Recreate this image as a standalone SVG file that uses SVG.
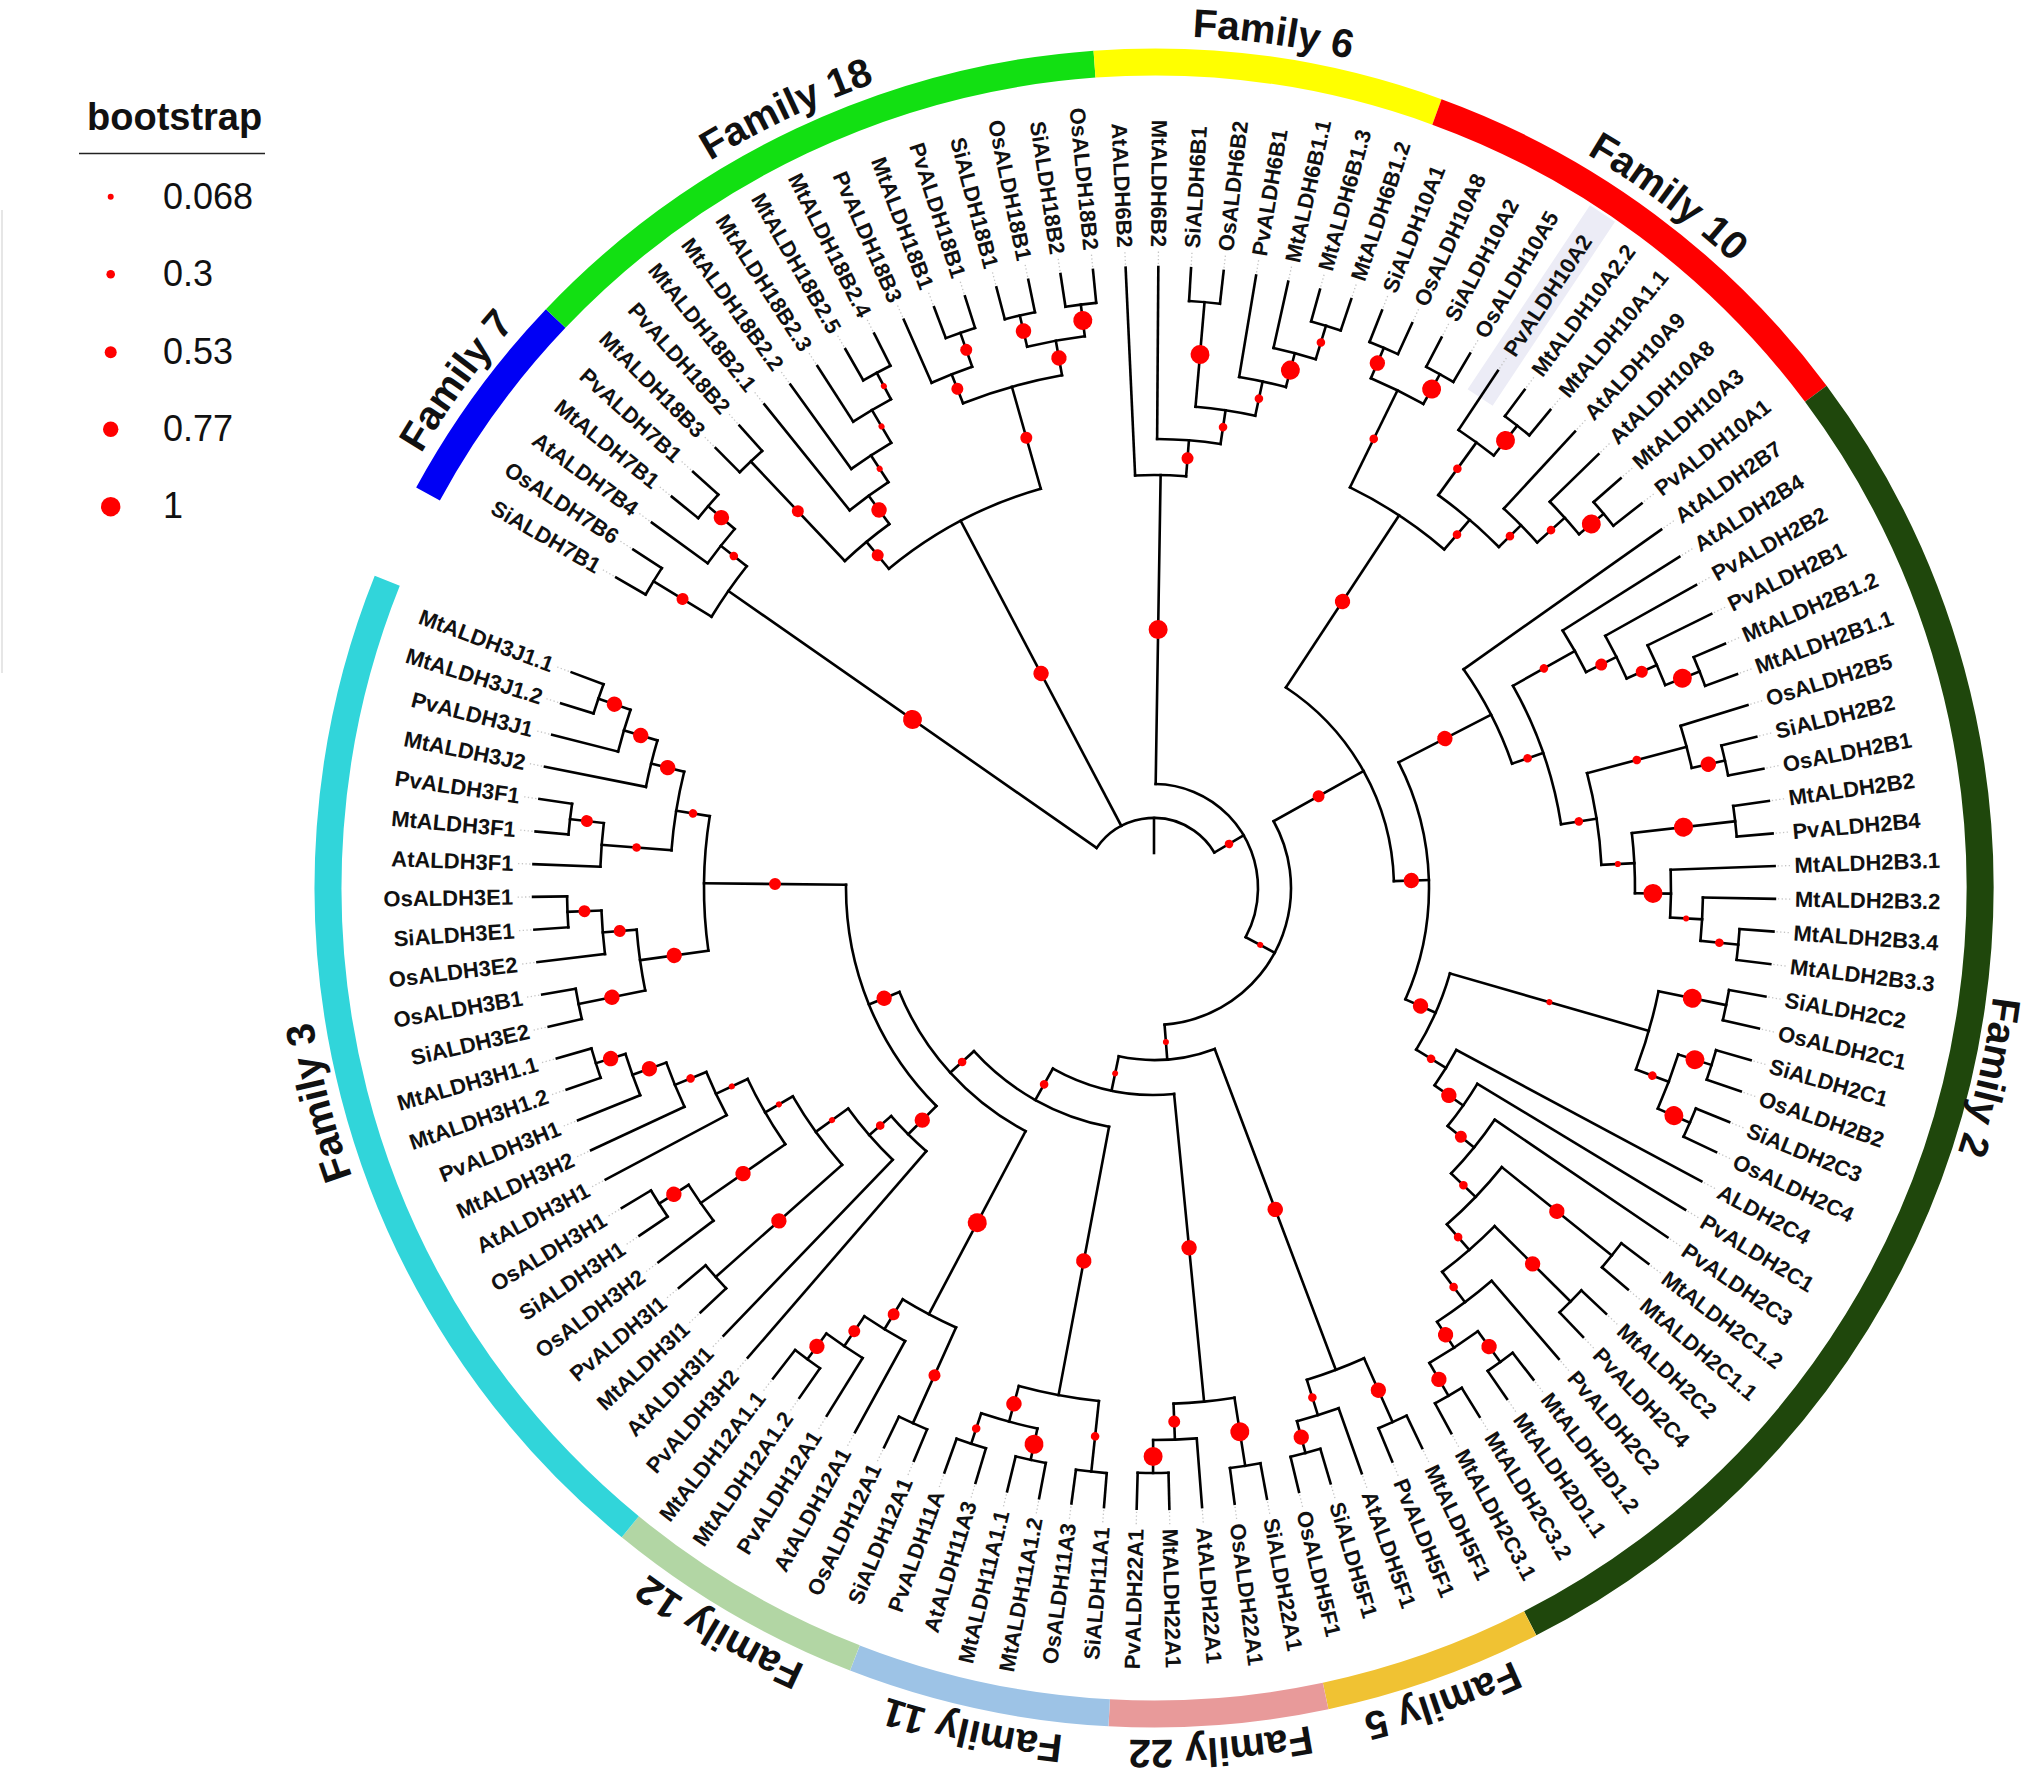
<svg xmlns="http://www.w3.org/2000/svg" width="2031" height="1777" viewBox="0 0 2031 1777">
<defs>
<style>
.br line,.br circle{fill:none;stroke:#000;stroke-width:2.6;stroke-linecap:square}
.bs circle{fill:#ff0000}
.rg circle{fill:none;stroke-width:27}
.lf text{font-family:"Liberation Sans",Arial,sans-serif;font-size:22px;font-weight:bold;fill:#111;dominant-baseline:central}
.lf line{stroke:#c4c4c4;stroke-width:1.3;stroke-dasharray:1.3 2.4}
.fam{font-family:"Liberation Sans",Arial,sans-serif;font-size:40px;font-weight:bold;fill:#111}
.lg{font-family:"Liberation Sans",Arial,sans-serif;font-size:36px;fill:#111}
</style>
<path id="famPath" d="M2006,888 A852,852 0 1,1 302,888 A852,852 0 1,1 2006,888"/>
<path id="famPath2" d="M2000,888 A846,846 0 1,1 308,888 A846,846 0 1,1 2000,888"/>
</defs>
<rect width="2031" height="1777" fill="#fff"/>
<line x1="2" y1="210" x2="2" y2="673" stroke="#e6e6e6" stroke-width="2"/>
<g id="highlight-PvALDH10A2" transform="translate(1154,888) rotate(303.62)"><rect x="589" y="-15" width="221" height="30" fill="#ececf6"/></g>
<g id="ring" class="rg" transform="translate(1154,888)">
<g id="ring-family7"><circle r="826" pathLength="360" stroke="#0000f5" stroke-dasharray="15.1 720" transform="rotate(208.49)"/></g>
<g id="ring-family18"><circle r="826" pathLength="360" stroke="#12e012" stroke-dasharray="42.28 720" transform="rotate(223.59)"/></g>
<g id="ring-family6"><circle r="826" pathLength="360" stroke="#ffff00" stroke-dasharray="24.16 720" transform="rotate(265.87)"/></g>
<g id="ring-family10"><circle r="826" pathLength="360" stroke="#ff0000" stroke-dasharray="33.22 720" transform="rotate(290.03)"/></g>
<g id="ring-family2"><circle r="826" pathLength="360" stroke="#1f470c" stroke-dasharray="99.66 720" transform="rotate(323.25)"/></g>
<g id="ring-family5"><circle r="826" pathLength="360" stroke="#f0c233" stroke-dasharray="15.1 720" transform="rotate(62.91)"/></g>
<g id="ring-family22"><circle r="826" pathLength="360" stroke="#e89a9a" stroke-dasharray="15.1 720" transform="rotate(78.01)"/></g>
<g id="ring-family11"><circle r="826" pathLength="360" stroke="#9dc3e6" stroke-dasharray="18.12 720" transform="rotate(93.11)"/></g>
<g id="ring-family12"><circle r="826" pathLength="360" stroke="#b2d6a4" stroke-dasharray="18.12 720" transform="rotate(111.23)"/></g>
<g id="ring-family3"><circle r="826" pathLength="360" stroke="#31d5da" stroke-dasharray="72.48 720" transform="rotate(129.35)"/></g>
</g>
<g id="family-labels" class="fam">
<text id="label-family7"><textPath href="#famPath" startOffset="60.01%" text-anchor="middle">Family 7</textPath></text>
<text id="label-family18"><textPath href="#famPath" startOffset="67.98%" text-anchor="middle">Family 18</textPath></text>
<text id="label-family6"><textPath href="#famPath" startOffset="77.21%" text-anchor="middle">Family 6</textPath></text>
<text id="label-family10"><textPath href="#famPath" startOffset="85.18%" text-anchor="middle">Family 10</textPath></text>
<text id="label-family2"><textPath href="#famPath2" startOffset="3.55%" text-anchor="middle">Family 2</textPath></text>
<text id="label-family5"><textPath href="#famPath" startOffset="19.57%" text-anchor="middle">Family 5</textPath></text>
<text id="label-family22"><textPath href="#famPath" startOffset="23.77%" text-anchor="middle">Family 22</textPath></text>
<text id="label-family11"><textPath href="#famPath" startOffset="28.38%" text-anchor="middle">Family 11</textPath></text>
<text id="label-family12"><textPath href="#famPath" startOffset="33.41%" text-anchor="middle">Family 12</textPath></text>
<text id="label-family3"><textPath href="#famPath" startOffset="46.0%" text-anchor="middle">Family 3</textPath></text>
</g>
<g id="connectors" class="br" transform="translate(1154,888)">
<line x1="35" x2="70" transform="rotate(270)"/>
<circle r="70" pathLength="360" stroke-dasharray="114.66 720" transform="rotate(214.91)"/>
<line x1="70" x2="519" transform="rotate(214.91)"/>
<line x1="70" x2="415" transform="rotate(242.23)"/>
<line x1="70" x2="104" transform="rotate(329.57)"/>
<circle r="104" pathLength="360" stroke-dasharray="117.29 720" transform="rotate(270.92)"/>
<line x1="104" x2="413" transform="rotate(270.92)"/>
<line x1="104" x2="137" transform="rotate(28.21)"/>
<circle r="137" pathLength="360" stroke-dasharray="114.74 720" transform="rotate(330.84)"/>
<line x1="137" x2="240" transform="rotate(330.84)"/>
<line x1="137" x2="172" transform="rotate(85.58)"/>
<circle r="240" pathLength="360" stroke-dasharray="55 720" transform="rotate(303.34)"/>
<line x1="240" x2="446" transform="rotate(303.34)"/>
<line x1="240" x2="275" transform="rotate(358.34)"/>
<circle r="275" pathLength="360" stroke-dasharray="51.08 720" transform="rotate(332.8)"/>
<line x1="275" x2="379" transform="rotate(332.8)"/>
<line x1="275" x2="308" transform="rotate(23.88)"/>
<circle r="379" pathLength="360" stroke-dasharray="16.09 720" transform="rotate(324.76)"/>
<line x1="379" x2="621" transform="rotate(324.76)"/>
<line x1="379" x2="412" transform="rotate(340.85)"/>
<circle r="412" pathLength="360" stroke-dasharray="20.48 720" transform="rotate(330.61)"/>
<line x1="412" x2="483" transform="rotate(330.61)"/>
<line x1="412" x2="448" transform="rotate(351.09)"/>
<circle r="483" pathLength="360" stroke-dasharray="5.67 720" transform="rotate(327.78)"/>
<line x1="483" x2="621" transform="rotate(327.78)"/>
<line x1="483" x2="517" transform="rotate(333.45)"/>
<circle r="517" pathLength="360" stroke-dasharray="5.29 720" transform="rotate(330.8)"/>
<line x1="517" x2="621" transform="rotate(330.8)"/>
<line x1="517" x2="550" transform="rotate(336.09)"/>
<circle r="550" pathLength="360" stroke-dasharray="4.53 720" transform="rotate(333.82)"/>
<line x1="550" x2="621" transform="rotate(333.82)"/>
<line x1="550" x2="587" transform="rotate(338.35)"/>
<circle r="587" pathLength="360" stroke-dasharray="3.02 720" transform="rotate(336.84)"/>
<line x1="587" x2="621" transform="rotate(336.84)"/>
<line x1="587" x2="621" transform="rotate(339.86)"/>
<circle r="448" pathLength="360" stroke-dasharray="11.89 720" transform="rotate(345.15)"/>
<line x1="448" x2="551" transform="rotate(345.15)"/>
<line x1="448" x2="481" transform="rotate(357.04)"/>
<circle r="551" pathLength="360" stroke-dasharray="4.53 720" transform="rotate(342.88)"/>
<line x1="551" x2="621" transform="rotate(342.88)"/>
<line x1="551" x2="585" transform="rotate(347.41)"/>
<circle r="585" pathLength="360" stroke-dasharray="3.02 720" transform="rotate(345.9)"/>
<line x1="585" x2="621" transform="rotate(345.9)"/>
<line x1="585" x2="621" transform="rotate(348.92)"/>
<circle r="481" pathLength="360" stroke-dasharray="7.17 720" transform="rotate(353.45)"/>
<line x1="481" x2="585" transform="rotate(353.45)"/>
<line x1="481" x2="517" transform="rotate(0.62)"/>
<circle r="585" pathLength="360" stroke-dasharray="3.02 720" transform="rotate(351.94)"/>
<line x1="585" x2="621" transform="rotate(351.94)"/>
<line x1="585" x2="621" transform="rotate(354.96)"/>
<circle r="517" pathLength="360" stroke-dasharray="5.29 720" transform="rotate(357.98)"/>
<line x1="517" x2="621" transform="rotate(357.98)"/>
<line x1="517" x2="549" transform="rotate(3.27)"/>
<circle r="549" pathLength="360" stroke-dasharray="4.53 720" transform="rotate(1)"/>
<line x1="549" x2="621" transform="rotate(1)"/>
<line x1="549" x2="587" transform="rotate(5.53)"/>
<circle r="587" pathLength="360" stroke-dasharray="3.02 720" transform="rotate(4.02)"/>
<line x1="587" x2="621" transform="rotate(4.02)"/>
<line x1="587" x2="621" transform="rotate(7.04)"/>
<circle r="308" pathLength="360" stroke-dasharray="15.55 720" transform="rotate(16.1)"/>
<line x1="308" x2="515" transform="rotate(16.1)"/>
<line x1="308" x2="343" transform="rotate(31.65)"/>
<circle r="515" pathLength="360" stroke-dasharray="9.06 720" transform="rotate(11.57)"/>
<line x1="515" x2="584" transform="rotate(11.57)"/>
<line x1="515" x2="550" transform="rotate(20.63)"/>
<circle r="584" pathLength="360" stroke-dasharray="3.02 720" transform="rotate(10.06)"/>
<line x1="584" x2="621" transform="rotate(10.06)"/>
<line x1="584" x2="621" transform="rotate(13.08)"/>
<circle r="550" pathLength="360" stroke-dasharray="6.04 720" transform="rotate(17.61)"/>
<line x1="550" x2="585" transform="rotate(17.61)"/>
<line x1="550" x2="585" transform="rotate(23.65)"/>
<circle r="585" pathLength="360" stroke-dasharray="3.02 720" transform="rotate(16.1)"/>
<line x1="585" x2="621" transform="rotate(16.1)"/>
<line x1="585" x2="621" transform="rotate(19.12)"/>
<circle r="585" pathLength="360" stroke-dasharray="3.02 720" transform="rotate(22.14)"/>
<line x1="585" x2="621" transform="rotate(22.14)"/>
<line x1="585" x2="621" transform="rotate(25.16)"/>
<circle r="343" pathLength="360" stroke-dasharray="6.94 720" transform="rotate(28.18)"/>
<line x1="343" x2="621" transform="rotate(28.18)"/>
<line x1="343" x2="378" transform="rotate(35.12)"/>
<circle r="378" pathLength="360" stroke-dasharray="7.83 720" transform="rotate(31.2)"/>
<line x1="378" x2="621" transform="rotate(31.2)"/>
<line x1="378" x2="412" transform="rotate(39.03)"/>
<circle r="412" pathLength="360" stroke-dasharray="9.63 720" transform="rotate(34.22)"/>
<line x1="412" x2="621" transform="rotate(34.22)"/>
<line x1="412" x2="446" transform="rotate(43.85)"/>
<circle r="446" pathLength="360" stroke-dasharray="10.19 720" transform="rotate(38.75)"/>
<line x1="446" x2="587" transform="rotate(38.75)"/>
<line x1="446" x2="480" transform="rotate(48.94)"/>
<circle r="587" pathLength="360" stroke-dasharray="3.02 720" transform="rotate(37.24)"/>
<line x1="587" x2="621" transform="rotate(37.24)"/>
<line x1="587" x2="621" transform="rotate(40.26)"/>
<circle r="480" pathLength="360" stroke-dasharray="8.31 720" transform="rotate(44.79)"/>
<line x1="480" x2="587" transform="rotate(44.79)"/>
<line x1="480" x2="518" transform="rotate(53.1)"/>
<circle r="587" pathLength="360" stroke-dasharray="3.02 720" transform="rotate(43.28)"/>
<line x1="587" x2="621" transform="rotate(43.28)"/>
<line x1="587" x2="621" transform="rotate(46.3)"/>
<circle r="518" pathLength="360" stroke-dasharray="7.55 720" transform="rotate(49.32)"/>
<line x1="518" x2="621" transform="rotate(49.32)"/>
<line x1="518" x2="549" transform="rotate(56.87)"/>
<circle r="549" pathLength="360" stroke-dasharray="6.04 720" transform="rotate(53.85)"/>
<line x1="549" x2="587" transform="rotate(53.85)"/>
<line x1="549" x2="587" transform="rotate(59.89)"/>
<circle r="587" pathLength="360" stroke-dasharray="3.02 720" transform="rotate(52.34)"/>
<line x1="587" x2="621" transform="rotate(52.34)"/>
<line x1="587" x2="621" transform="rotate(55.36)"/>
<circle r="587" pathLength="360" stroke-dasharray="3.02 720" transform="rotate(58.38)"/>
<line x1="587" x2="621" transform="rotate(58.38)"/>
<line x1="587" x2="621" transform="rotate(61.4)"/>
<circle r="446" pathLength="360" stroke-dasharray="14.54 720" transform="rotate(296.07)"/>
<line x1="446" x2="554" transform="rotate(296.07)"/>
<line x1="446" x2="485" transform="rotate(310.61)"/>
<circle r="554" pathLength="360" stroke-dasharray="6.04 720" transform="rotate(293.05)"/>
<line x1="554" x2="587" transform="rotate(293.05)"/>
<line x1="554" x2="588" transform="rotate(299.09)"/>
<circle r="587" pathLength="360" stroke-dasharray="3.02 720" transform="rotate(291.54)"/>
<line x1="587" x2="621" transform="rotate(291.54)"/>
<line x1="587" x2="621" transform="rotate(294.56)"/>
<circle r="588" pathLength="360" stroke-dasharray="3.02 720" transform="rotate(297.58)"/>
<line x1="588" x2="621" transform="rotate(297.58)"/>
<line x1="588" x2="621" transform="rotate(300.6)"/>
<circle r="485" pathLength="360" stroke-dasharray="9.44 720" transform="rotate(305.89)"/>
<line x1="485" x2="550" transform="rotate(305.89)"/>
<line x1="485" x2="516" transform="rotate(315.33)"/>
<circle r="550" pathLength="360" stroke-dasharray="4.53 720" transform="rotate(303.62)"/>
<line x1="550" x2="621" transform="rotate(303.62)"/>
<line x1="550" x2="588" transform="rotate(308.15)"/>
<circle r="588" pathLength="360" stroke-dasharray="3.02 720" transform="rotate(306.64)"/>
<line x1="588" x2="621" transform="rotate(306.64)"/>
<line x1="588" x2="621" transform="rotate(309.66)"/>
<circle r="516" pathLength="360" stroke-dasharray="5.29 720" transform="rotate(312.68)"/>
<line x1="516" x2="621" transform="rotate(312.68)"/>
<line x1="516" x2="553" transform="rotate(317.97)"/>
<circle r="553" pathLength="360" stroke-dasharray="4.53 720" transform="rotate(315.7)"/>
<line x1="553" x2="621" transform="rotate(315.7)"/>
<line x1="553" x2="585" transform="rotate(320.23)"/>
<circle r="585" pathLength="360" stroke-dasharray="3.02 720" transform="rotate(318.72)"/>
<line x1="585" x2="621" transform="rotate(318.72)"/>
<line x1="585" x2="621" transform="rotate(321.74)"/>
<circle r="413" pathLength="360" stroke-dasharray="7.08 720" transform="rotate(267.38)"/>
<line x1="413" x2="621" transform="rotate(267.38)"/>
<line x1="413" x2="449" transform="rotate(274.46)"/>
<circle r="449" pathLength="360" stroke-dasharray="8.12 720" transform="rotate(270.4)"/>
<line x1="449" x2="621" transform="rotate(270.4)"/>
<line x1="449" x2="483" transform="rotate(278.52)"/>
<circle r="483" pathLength="360" stroke-dasharray="7.17 720" transform="rotate(274.93)"/>
<line x1="483" x2="588" transform="rotate(274.93)"/>
<line x1="483" x2="518" transform="rotate(282.1)"/>
<circle r="588" pathLength="360" stroke-dasharray="3.02 720" transform="rotate(273.42)"/>
<line x1="588" x2="621" transform="rotate(273.42)"/>
<line x1="588" x2="621" transform="rotate(276.44)"/>
<circle r="518" pathLength="360" stroke-dasharray="5.29 720" transform="rotate(279.46)"/>
<line x1="518" x2="621" transform="rotate(279.46)"/>
<line x1="518" x2="553" transform="rotate(284.75)"/>
<circle r="553" pathLength="360" stroke-dasharray="4.53 720" transform="rotate(282.48)"/>
<line x1="553" x2="621" transform="rotate(282.48)"/>
<line x1="553" x2="588" transform="rotate(287.01)"/>
<circle r="588" pathLength="360" stroke-dasharray="3.02 720" transform="rotate(285.5)"/>
<line x1="588" x2="621" transform="rotate(285.5)"/>
<line x1="588" x2="621" transform="rotate(288.52)"/>
<circle r="519" pathLength="360" stroke-dasharray="6.8 720" transform="rotate(211.51)"/>
<line x1="519" x2="587" transform="rotate(211.51)"/>
<line x1="519" x2="552" transform="rotate(218.31)"/>
<circle r="587" pathLength="360" stroke-dasharray="3.02 720" transform="rotate(210)"/>
<line x1="587" x2="621" transform="rotate(210)"/>
<line x1="587" x2="621" transform="rotate(213.02)"/>
<circle r="552" pathLength="360" stroke-dasharray="4.53 720" transform="rotate(216.04)"/>
<line x1="552" x2="621" transform="rotate(216.04)"/>
<line x1="552" x2="587" transform="rotate(220.57)"/>
<circle r="587" pathLength="360" stroke-dasharray="3.02 720" transform="rotate(219.06)"/>
<line x1="587" x2="621" transform="rotate(219.06)"/>
<line x1="587" x2="621" transform="rotate(222.08)"/>
<circle r="415" pathLength="360" stroke-dasharray="23.88 720" transform="rotate(230.29)"/>
<line x1="415" x2="450" transform="rotate(230.29)"/>
<line x1="415" x2="521" transform="rotate(254.17)"/>
<circle r="450" pathLength="360" stroke-dasharray="7.36 720" transform="rotate(226.61)"/>
<line x1="450" x2="587" transform="rotate(226.61)"/>
<line x1="450" x2="485" transform="rotate(233.97)"/>
<circle r="587" pathLength="360" stroke-dasharray="3.02 720" transform="rotate(225.1)"/>
<line x1="587" x2="621" transform="rotate(225.1)"/>
<line x1="587" x2="621" transform="rotate(228.12)"/>
<circle r="485" pathLength="360" stroke-dasharray="5.66 720" transform="rotate(231.14)"/>
<line x1="485" x2="621" transform="rotate(231.14)"/>
<line x1="485" x2="517" transform="rotate(236.8)"/>
<circle r="517" pathLength="360" stroke-dasharray="5.29 720" transform="rotate(234.16)"/>
<line x1="517" x2="621" transform="rotate(234.16)"/>
<line x1="517" x2="555" transform="rotate(239.45)"/>
<circle r="555" pathLength="360" stroke-dasharray="4.53 720" transform="rotate(237.18)"/>
<line x1="555" x2="621" transform="rotate(237.18)"/>
<line x1="555" x2="585" transform="rotate(241.71)"/>
<circle r="585" pathLength="360" stroke-dasharray="3.02 720" transform="rotate(240.2)"/>
<line x1="585" x2="621" transform="rotate(240.2)"/>
<line x1="585" x2="621" transform="rotate(243.22)"/>
<circle r="521" pathLength="360" stroke-dasharray="11.33 720" transform="rotate(248.5)"/>
<line x1="521" x2="552" transform="rotate(248.5)"/>
<line x1="521" x2="556" transform="rotate(259.83)"/>
<circle r="552" pathLength="360" stroke-dasharray="4.53 720" transform="rotate(246.24)"/>
<line x1="552" x2="621" transform="rotate(246.24)"/>
<line x1="552" x2="588" transform="rotate(250.77)"/>
<circle r="588" pathLength="360" stroke-dasharray="3.02 720" transform="rotate(249.26)"/>
<line x1="588" x2="621" transform="rotate(249.26)"/>
<line x1="588" x2="621" transform="rotate(252.28)"/>
<circle r="556" pathLength="360" stroke-dasharray="6.04 720" transform="rotate(256.81)"/>
<line x1="556" x2="588" transform="rotate(256.81)"/>
<line x1="556" x2="588" transform="rotate(262.85)"/>
<circle r="588" pathLength="360" stroke-dasharray="3.02 720" transform="rotate(255.3)"/>
<line x1="588" x2="621" transform="rotate(255.3)"/>
<line x1="588" x2="621" transform="rotate(258.32)"/>
<circle r="588" pathLength="360" stroke-dasharray="3.02 720" transform="rotate(261.34)"/>
<line x1="588" x2="621" transform="rotate(261.34)"/>
<line x1="588" x2="621" transform="rotate(264.36)"/>
<circle r="172" pathLength="360" stroke-dasharray="32.5 720" transform="rotate(69.33)"/>
<line x1="172" x2="515" transform="rotate(69.33)"/>
<line x1="172" x2="207" transform="rotate(101.83)"/>
<circle r="515" pathLength="360" stroke-dasharray="6.8 720" transform="rotate(65.93)"/>
<line x1="515" x2="585" transform="rotate(65.93)"/>
<line x1="515" x2="552" transform="rotate(72.73)"/>
<circle r="585" pathLength="360" stroke-dasharray="3.02 720" transform="rotate(64.42)"/>
<line x1="585" x2="621" transform="rotate(64.42)"/>
<line x1="585" x2="621" transform="rotate(67.44)"/>
<circle r="552" pathLength="360" stroke-dasharray="4.53 720" transform="rotate(70.46)"/>
<line x1="552" x2="621" transform="rotate(70.46)"/>
<line x1="552" x2="585" transform="rotate(74.99)"/>
<circle r="585" pathLength="360" stroke-dasharray="3.02 720" transform="rotate(73.48)"/>
<line x1="585" x2="621" transform="rotate(73.48)"/>
<line x1="585" x2="621" transform="rotate(76.5)"/>
<circle r="207" pathLength="360" stroke-dasharray="34.81 720" transform="rotate(84.43)"/>
<line x1="207" x2="516" transform="rotate(84.43)"/>
<line x1="207" x2="243" transform="rotate(119.24)"/>
<circle r="516" pathLength="360" stroke-dasharray="6.8 720" transform="rotate(81.03)"/>
<line x1="516" x2="585" transform="rotate(81.03)"/>
<line x1="516" x2="552" transform="rotate(87.83)"/>
<circle r="585" pathLength="360" stroke-dasharray="3.02 720" transform="rotate(79.52)"/>
<line x1="585" x2="621" transform="rotate(79.52)"/>
<line x1="585" x2="621" transform="rotate(82.54)"/>
<circle r="552" pathLength="360" stroke-dasharray="4.53 720" transform="rotate(85.56)"/>
<line x1="552" x2="621" transform="rotate(85.56)"/>
<line x1="552" x2="585" transform="rotate(90.09)"/>
<circle r="585" pathLength="360" stroke-dasharray="3.02 720" transform="rotate(88.58)"/>
<line x1="585" x2="621" transform="rotate(88.58)"/>
<line x1="585" x2="621" transform="rotate(91.6)"/>
<circle r="243" pathLength="360" stroke-dasharray="37.15 720" transform="rotate(100.66)"/>
<line x1="243" x2="516" transform="rotate(100.66)"/>
<line x1="243" x2="275" transform="rotate(137.81)"/>
<circle r="516" pathLength="360" stroke-dasharray="9.06 720" transform="rotate(96.13)"/>
<line x1="516" x2="587" transform="rotate(96.13)"/>
<line x1="516" x2="553" transform="rotate(105.19)"/>
<circle r="587" pathLength="360" stroke-dasharray="3.02 720" transform="rotate(94.62)"/>
<line x1="587" x2="621" transform="rotate(94.62)"/>
<line x1="587" x2="621" transform="rotate(97.64)"/>
<circle r="553" pathLength="360" stroke-dasharray="6.04 720" transform="rotate(102.17)"/>
<line x1="553" x2="585" transform="rotate(102.17)"/>
<line x1="553" x2="585" transform="rotate(108.21)"/>
<circle r="585" pathLength="360" stroke-dasharray="3.02 720" transform="rotate(100.66)"/>
<line x1="585" x2="621" transform="rotate(100.66)"/>
<line x1="585" x2="621" transform="rotate(103.68)"/>
<circle r="585" pathLength="360" stroke-dasharray="3.02 720" transform="rotate(106.7)"/>
<line x1="585" x2="621" transform="rotate(106.7)"/>
<line x1="585" x2="621" transform="rotate(109.72)"/>
<circle r="275" pathLength="360" stroke-dasharray="39.94 720" transform="rotate(117.84)"/>
<line x1="275" x2="482" transform="rotate(117.84)"/>
<line x1="275" x2="308" transform="rotate(157.78)"/>
<circle r="482" pathLength="360" stroke-dasharray="7.17 720" transform="rotate(114.25)"/>
<line x1="482" x2="587" transform="rotate(114.25)"/>
<line x1="482" x2="517" transform="rotate(121.42)"/>
<circle r="587" pathLength="360" stroke-dasharray="3.02 720" transform="rotate(112.74)"/>
<line x1="587" x2="621" transform="rotate(112.74)"/>
<line x1="587" x2="621" transform="rotate(115.76)"/>
<circle r="517" pathLength="360" stroke-dasharray="5.29 720" transform="rotate(118.78)"/>
<line x1="517" x2="621" transform="rotate(118.78)"/>
<line x1="517" x2="553" transform="rotate(124.07)"/>
<circle r="553" pathLength="360" stroke-dasharray="4.53 720" transform="rotate(121.8)"/>
<line x1="553" x2="621" transform="rotate(121.8)"/>
<line x1="553" x2="585" transform="rotate(126.33)"/>
<circle r="585" pathLength="360" stroke-dasharray="3.02 720" transform="rotate(124.82)"/>
<line x1="585" x2="621" transform="rotate(124.82)"/>
<line x1="585" x2="621" transform="rotate(127.84)"/>
<circle r="308" pathLength="360" stroke-dasharray="45.65 720" transform="rotate(134.95)"/>
<line x1="308" x2="348" transform="rotate(134.95)"/>
<line x1="308" x2="450" transform="rotate(180.6)"/>
<circle r="348" pathLength="360" stroke-dasharray="8.19 720" transform="rotate(130.86)"/>
<line x1="348" x2="621" transform="rotate(130.86)"/>
<line x1="348" x2="377" transform="rotate(139.05)"/>
<circle r="377" pathLength="360" stroke-dasharray="10.33 720" transform="rotate(133.88)"/>
<line x1="377" x2="621" transform="rotate(133.88)"/>
<line x1="377" x2="417" transform="rotate(144.21)"/>
<circle r="417" pathLength="360" stroke-dasharray="11.61 720" transform="rotate(138.41)"/>
<line x1="417" x2="586" transform="rotate(138.41)"/>
<line x1="417" x2="449" transform="rotate(150.02)"/>
<circle r="586" pathLength="360" stroke-dasharray="3.02 720" transform="rotate(136.9)"/>
<line x1="586" x2="621" transform="rotate(136.9)"/>
<line x1="586" x2="621" transform="rotate(139.92)"/>
<circle r="449" pathLength="360" stroke-dasharray="9.63 720" transform="rotate(145.2)"/>
<line x1="449" x2="552" transform="rotate(145.2)"/>
<line x1="449" x2="484" transform="rotate(154.83)"/>
<circle r="552" pathLength="360" stroke-dasharray="4.53 720" transform="rotate(142.94)"/>
<line x1="552" x2="621" transform="rotate(142.94)"/>
<line x1="552" x2="587" transform="rotate(147.47)"/>
<circle r="587" pathLength="360" stroke-dasharray="3.02 720" transform="rotate(145.96)"/>
<line x1="587" x2="621" transform="rotate(145.96)"/>
<line x1="587" x2="621" transform="rotate(148.98)"/>
<circle r="484" pathLength="360" stroke-dasharray="5.66 720" transform="rotate(152)"/>
<line x1="484" x2="621" transform="rotate(152)"/>
<line x1="484" x2="518" transform="rotate(157.66)"/>
<circle r="518" pathLength="360" stroke-dasharray="5.28 720" transform="rotate(155.02)"/>
<line x1="518" x2="621" transform="rotate(155.02)"/>
<line x1="518" x2="554" transform="rotate(160.3)"/>
<circle r="554" pathLength="360" stroke-dasharray="4.53 720" transform="rotate(158.04)"/>
<line x1="554" x2="621" transform="rotate(158.04)"/>
<line x1="554" x2="585" transform="rotate(162.57)"/>
<circle r="585" pathLength="360" stroke-dasharray="3.02 720" transform="rotate(161.06)"/>
<line x1="585" x2="621" transform="rotate(161.06)"/>
<line x1="585" x2="621" transform="rotate(164.08)"/>
<circle r="450" pathLength="360" stroke-dasharray="17.19 720" transform="rotate(172)"/>
<line x1="450" x2="519" transform="rotate(172)"/>
<line x1="450" x2="484" transform="rotate(189.19)"/>
<circle r="519" pathLength="360" stroke-dasharray="6.79 720" transform="rotate(168.61)"/>
<line x1="519" x2="587" transform="rotate(168.61)"/>
<line x1="519" x2="553" transform="rotate(175.4)"/>
<circle r="587" pathLength="360" stroke-dasharray="3.02 720" transform="rotate(167.1)"/>
<line x1="587" x2="621" transform="rotate(167.1)"/>
<line x1="587" x2="621" transform="rotate(170.12)"/>
<circle r="553" pathLength="360" stroke-dasharray="4.53 720" transform="rotate(173.14)"/>
<line x1="553" x2="621" transform="rotate(173.14)"/>
<line x1="553" x2="587" transform="rotate(177.67)"/>
<circle r="587" pathLength="360" stroke-dasharray="3.02 720" transform="rotate(176.16)"/>
<line x1="587" x2="621" transform="rotate(176.16)"/>
<line x1="587" x2="621" transform="rotate(179.18)"/>
<circle r="484" pathLength="360" stroke-dasharray="9.43 720" transform="rotate(184.47)"/>
<line x1="484" x2="554" transform="rotate(184.47)"/>
<line x1="484" x2="518" transform="rotate(193.9)"/>
<circle r="554" pathLength="360" stroke-dasharray="4.53 720" transform="rotate(182.2)"/>
<line x1="554" x2="621" transform="rotate(182.2)"/>
<line x1="554" x2="588" transform="rotate(186.73)"/>
<circle r="588" pathLength="360" stroke-dasharray="3.02 720" transform="rotate(185.22)"/>
<line x1="588" x2="621" transform="rotate(185.22)"/>
<line x1="588" x2="621" transform="rotate(188.24)"/>
<circle r="518" pathLength="360" stroke-dasharray="5.29 720" transform="rotate(191.26)"/>
<line x1="518" x2="621" transform="rotate(191.26)"/>
<line x1="518" x2="553" transform="rotate(196.55)"/>
<circle r="553" pathLength="360" stroke-dasharray="4.53 720" transform="rotate(194.28)"/>
<line x1="553" x2="621" transform="rotate(194.28)"/>
<line x1="553" x2="587" transform="rotate(198.81)"/>
<circle r="587" pathLength="360" stroke-dasharray="3.02 720" transform="rotate(197.3)"/>
<line x1="587" x2="621" transform="rotate(197.3)"/>
<line x1="587" x2="621" transform="rotate(200.32)"/>
</g>
<g id="bootstrap-support" class="bs" transform="translate(1154,888)">
<circle cx="294.5" r="9.5" transform="rotate(214.91)"/>
<circle cx="242.5" r="7.7" transform="rotate(242.23)"/>
<circle cx="87" r="4.3" transform="rotate(329.57)"/>
<circle cx="258.5" r="9.5" transform="rotate(270.92)"/>
<circle cx="120.5" r="3" transform="rotate(28.21)"/>
<circle cx="188.5" r="6" transform="rotate(330.84)"/>
<circle cx="154.5" r="3" transform="rotate(85.58)"/>
<circle cx="343" r="7.7" transform="rotate(303.34)"/>
<circle cx="257.5" r="7.7" transform="rotate(358.34)"/>
<circle cx="327" r="7.7" transform="rotate(332.8)"/>
<circle cx="291.5" r="7.7" transform="rotate(23.88)"/>
<circle cx="395.5" r="4.3" transform="rotate(340.85)"/>
<circle cx="447.5" r="4.3" transform="rotate(330.61)"/>
<circle cx="430" r="4.3" transform="rotate(351.09)"/>
<circle cx="500" r="6" transform="rotate(333.45)"/>
<circle cx="533.5" r="6" transform="rotate(336.09)"/>
<circle cx="568.5" r="9.5" transform="rotate(338.35)"/>
<circle cx="499.5" r="4.3" transform="rotate(345.15)"/>
<circle cx="464.5" r="3" transform="rotate(357.04)"/>
<circle cx="568" r="7.7" transform="rotate(347.41)"/>
<circle cx="533" r="9.5" transform="rotate(353.45)"/>
<circle cx="499" r="9.5" transform="rotate(0.62)"/>
<circle cx="533" r="3" transform="rotate(3.27)"/>
<circle cx="568" r="4.3" transform="rotate(5.53)"/>
<circle cx="411.5" r="3" transform="rotate(16.1)"/>
<circle cx="325.5" r="4.3" transform="rotate(31.65)"/>
<circle cx="549.5" r="9.5" transform="rotate(11.57)"/>
<circle cx="532.5" r="4.3" transform="rotate(20.63)"/>
<circle cx="567.5" r="9.5" transform="rotate(17.61)"/>
<circle cx="567.5" r="9.5" transform="rotate(23.65)"/>
<circle cx="360.5" r="7.7" transform="rotate(35.12)"/>
<circle cx="395" r="6" transform="rotate(39.03)"/>
<circle cx="429" r="4.3" transform="rotate(43.85)"/>
<circle cx="516.5" r="7.7" transform="rotate(38.75)"/>
<circle cx="463" r="4.3" transform="rotate(48.94)"/>
<circle cx="533.5" r="7.7" transform="rotate(44.79)"/>
<circle cx="499" r="4.3" transform="rotate(53.1)"/>
<circle cx="533.5" r="7.7" transform="rotate(56.87)"/>
<circle cx="568" r="7.7" transform="rotate(53.85)"/>
<circle cx="568" r="7.7" transform="rotate(59.89)"/>
<circle cx="500" r="4.3" transform="rotate(296.07)"/>
<circle cx="465.5" r="4.3" transform="rotate(310.61)"/>
<circle cx="570.5" r="7.7" transform="rotate(293.05)"/>
<circle cx="571" r="9.5" transform="rotate(299.09)"/>
<circle cx="517.5" r="4.3" transform="rotate(305.89)"/>
<circle cx="500.5" r="4.3" transform="rotate(315.33)"/>
<circle cx="569" r="9.5" transform="rotate(308.15)"/>
<circle cx="534.5" r="4.3" transform="rotate(317.97)"/>
<circle cx="569" r="9.5" transform="rotate(320.23)"/>
<circle cx="431" r="6" transform="rotate(274.46)"/>
<circle cx="466" r="4.3" transform="rotate(278.52)"/>
<circle cx="535.5" r="9.5" transform="rotate(274.93)"/>
<circle cx="500.5" r="4.3" transform="rotate(282.1)"/>
<circle cx="535.5" r="9.5" transform="rotate(284.75)"/>
<circle cx="570.5" r="4.3" transform="rotate(287.01)"/>
<circle cx="553" r="6" transform="rotate(211.51)"/>
<circle cx="535.5" r="4.3" transform="rotate(218.31)"/>
<circle cx="569.5" r="7.7" transform="rotate(220.57)"/>
<circle cx="432.5" r="6" transform="rotate(230.29)"/>
<circle cx="468" r="6" transform="rotate(254.17)"/>
<circle cx="518.5" r="6" transform="rotate(226.61)"/>
<circle cx="467.5" r="7.7" transform="rotate(233.97)"/>
<circle cx="501" r="3" transform="rotate(236.8)"/>
<circle cx="536" r="3" transform="rotate(239.45)"/>
<circle cx="570" r="3" transform="rotate(241.71)"/>
<circle cx="536.5" r="6" transform="rotate(248.5)"/>
<circle cx="538.5" r="7.7" transform="rotate(259.83)"/>
<circle cx="570" r="6" transform="rotate(250.77)"/>
<circle cx="572" r="7.7" transform="rotate(256.81)"/>
<circle cx="572" r="9.5" transform="rotate(262.85)"/>
<circle cx="343.5" r="7.7" transform="rotate(69.33)"/>
<circle cx="189.5" r="3" transform="rotate(101.83)"/>
<circle cx="550" r="7.7" transform="rotate(65.93)"/>
<circle cx="533.5" r="4.3" transform="rotate(72.73)"/>
<circle cx="568.5" r="7.7" transform="rotate(74.99)"/>
<circle cx="361.5" r="7.7" transform="rotate(84.43)"/>
<circle cx="225" r="4.3" transform="rotate(119.24)"/>
<circle cx="550.5" r="9.5" transform="rotate(81.03)"/>
<circle cx="534" r="6" transform="rotate(87.83)"/>
<circle cx="568.5" r="9.5" transform="rotate(90.09)"/>
<circle cx="379.5" r="7.7" transform="rotate(100.66)"/>
<circle cx="259" r="4.3" transform="rotate(137.81)"/>
<circle cx="551.5" r="4.3" transform="rotate(96.13)"/>
<circle cx="534.5" r="7.7" transform="rotate(105.19)"/>
<circle cx="569" r="9.5" transform="rotate(102.17)"/>
<circle cx="569" r="4.3" transform="rotate(108.21)"/>
<circle cx="378.5" r="9.5" transform="rotate(117.84)"/>
<circle cx="291.5" r="7.7" transform="rotate(157.78)"/>
<circle cx="534.5" r="6" transform="rotate(114.25)"/>
<circle cx="499.5" r="6" transform="rotate(121.42)"/>
<circle cx="535" r="6" transform="rotate(124.07)"/>
<circle cx="569" r="7.7" transform="rotate(126.33)"/>
<circle cx="328" r="7.7" transform="rotate(134.95)"/>
<circle cx="379" r="6" transform="rotate(180.6)"/>
<circle cx="362.5" r="4.3" transform="rotate(139.05)"/>
<circle cx="397" r="3" transform="rotate(144.21)"/>
<circle cx="501.5" r="7.7" transform="rotate(138.41)"/>
<circle cx="433" r="3" transform="rotate(150.02)"/>
<circle cx="500.5" r="7.7" transform="rotate(145.2)"/>
<circle cx="466.5" r="3" transform="rotate(154.83)"/>
<circle cx="569.5" r="7.7" transform="rotate(147.47)"/>
<circle cx="501" r="4.3" transform="rotate(157.66)"/>
<circle cx="536" r="7.7" transform="rotate(160.3)"/>
<circle cx="569.5" r="7.7" transform="rotate(162.57)"/>
<circle cx="484.5" r="7.7" transform="rotate(172)"/>
<circle cx="467" r="4.3" transform="rotate(189.19)"/>
<circle cx="553" r="7.7" transform="rotate(168.61)"/>
<circle cx="536" r="6" transform="rotate(175.4)"/>
<circle cx="570" r="6" transform="rotate(177.67)"/>
<circle cx="519" r="4.3" transform="rotate(184.47)"/>
<circle cx="501" r="7.7" transform="rotate(193.9)"/>
<circle cx="571" r="6" transform="rotate(186.73)"/>
<circle cx="535.5" r="7.7" transform="rotate(196.55)"/>
<circle cx="570" r="7.7" transform="rotate(198.81)"/>
</g>
<g id="leaves" class="lf" transform="translate(1154,888)">
<g id="leaf-SiALDH7B1" transform="rotate(210)"><line x1="624" x2="638"/><text x="-641" text-anchor="end" transform="rotate(180)">SiALDH7B1</text></g>
<g id="leaf-OsALDH7B6" transform="rotate(213.02)"><line x1="624" x2="638"/><text x="-641" text-anchor="end" transform="rotate(180)">OsALDH7B6</text></g>
<g id="leaf-AtALDH7B4" transform="rotate(216.04)"><line x1="624" x2="638"/><text x="-641" text-anchor="end" transform="rotate(180)">AtALDH7B4</text></g>
<g id="leaf-MtALDH7B1" transform="rotate(219.06)"><line x1="624" x2="638"/><text x="-641" text-anchor="end" transform="rotate(180)">MtALDH7B1</text></g>
<g id="leaf-PvALDH7B1" transform="rotate(222.08)"><line x1="624" x2="638"/><text x="-641" text-anchor="end" transform="rotate(180)">PvALDH7B1</text></g>
<g id="leaf-MtALDH18B3" transform="rotate(225.1)"><line x1="624" x2="638"/><text x="-641" text-anchor="end" transform="rotate(180)">MtALDH18B3</text></g>
<g id="leaf-PvALDH18B2" transform="rotate(228.12)"><line x1="624" x2="638"/><text x="-641" text-anchor="end" transform="rotate(180)">PvALDH18B2</text></g>
<g id="leaf-MtALDH18B2.1" transform="rotate(231.14)"><line x1="624" x2="638"/><text x="-641" text-anchor="end" transform="rotate(180)">MtALDH18B2.1</text></g>
<g id="leaf-MtALDH18B2.2" transform="rotate(234.16)"><line x1="624" x2="638"/><text x="-641" text-anchor="end" transform="rotate(180)">MtALDH18B2.2</text></g>
<g id="leaf-MtALDH18B2.3" transform="rotate(237.18)"><line x1="624" x2="638"/><text x="-641" text-anchor="end" transform="rotate(180)">MtALDH18B2.3</text></g>
<g id="leaf-MtALDH18B2.5" transform="rotate(240.2)"><line x1="624" x2="638"/><text x="-641" text-anchor="end" transform="rotate(180)">MtALDH18B2.5</text></g>
<g id="leaf-MtALDH18B2.4" transform="rotate(243.22)"><line x1="624" x2="638"/><text x="-641" text-anchor="end" transform="rotate(180)">MtALDH18B2.4</text></g>
<g id="leaf-PvALDH18B3" transform="rotate(246.24)"><line x1="624" x2="638"/><text x="-641" text-anchor="end" transform="rotate(180)">PvALDH18B3</text></g>
<g id="leaf-MtALDH18B1" transform="rotate(249.26)"><line x1="624" x2="638"/><text x="-641" text-anchor="end" transform="rotate(180)">MtALDH18B1</text></g>
<g id="leaf-PvALDH18B1" transform="rotate(252.28)"><line x1="624" x2="638"/><text x="-641" text-anchor="end" transform="rotate(180)">PvALDH18B1</text></g>
<g id="leaf-SiALDH18B1" transform="rotate(255.3)"><line x1="624" x2="638"/><text x="-641" text-anchor="end" transform="rotate(180)">SiALDH18B1</text></g>
<g id="leaf-OsALDH18B1" transform="rotate(258.32)"><line x1="624" x2="638"/><text x="-641" text-anchor="end" transform="rotate(180)">OsALDH18B1</text></g>
<g id="leaf-SiALDH18B2" transform="rotate(261.34)"><line x1="624" x2="638"/><text x="-641" text-anchor="end" transform="rotate(180)">SiALDH18B2</text></g>
<g id="leaf-OsALDH18B2" transform="rotate(264.36)"><line x1="624" x2="638"/><text x="-641" text-anchor="end" transform="rotate(180)">OsALDH18B2</text></g>
<g id="leaf-AtALDH6B2" transform="rotate(267.38)"><line x1="624" x2="638"/><text x="-641" text-anchor="end" transform="rotate(180)">AtALDH6B2</text></g>
<g id="leaf-MtALDH6B2" transform="rotate(270.4)"><line x1="624" x2="638"/><text x="-641" text-anchor="end" transform="rotate(180)">MtALDH6B2</text></g>
<g id="leaf-SiALDH6B1" transform="rotate(273.42)"><line x1="624" x2="638"/><text x="641">SiALDH6B1</text></g>
<g id="leaf-OsALDH6B2" transform="rotate(276.44)"><line x1="624" x2="638"/><text x="641">OsALDH6B2</text></g>
<g id="leaf-PvALDH6B1" transform="rotate(279.46)"><line x1="624" x2="638"/><text x="641">PvALDH6B1</text></g>
<g id="leaf-MtALDH6B1.1" transform="rotate(282.48)"><line x1="624" x2="638"/><text x="641">MtALDH6B1.1</text></g>
<g id="leaf-MtALDH6B1.3" transform="rotate(285.5)"><line x1="624" x2="638"/><text x="641">MtALDH6B1.3</text></g>
<g id="leaf-MtALDH6B1.2" transform="rotate(288.52)"><line x1="624" x2="638"/><text x="641">MtALDH6B1.2</text></g>
<g id="leaf-SiALDH10A1" transform="rotate(291.54)"><line x1="624" x2="638"/><text x="641">SiALDH10A1</text></g>
<g id="leaf-OsALDH10A8" transform="rotate(294.56)"><line x1="624" x2="638"/><text x="641">OsALDH10A8</text></g>
<g id="leaf-SiALDH10A2" transform="rotate(297.58)"><line x1="624" x2="638"/><text x="641">SiALDH10A2</text></g>
<g id="leaf-OsALDH10A5" transform="rotate(300.6)"><line x1="624" x2="638"/><text x="641">OsALDH10A5</text></g>
<g id="leaf-PvALDH10A2" transform="rotate(303.62)"><line x1="624" x2="638"/><text x="641">PvALDH10A2</text></g>
<g id="leaf-MtALDH10A2.2" transform="rotate(306.64)"><line x1="624" x2="638"/><text x="641">MtALDH10A2.2</text></g>
<g id="leaf-MtALDH10A1.1" transform="rotate(309.66)"><line x1="624" x2="638"/><text x="641">MtALDH10A1.1</text></g>
<g id="leaf-AtALDH10A9" transform="rotate(312.68)"><line x1="624" x2="638"/><text x="641">AtALDH10A9</text></g>
<g id="leaf-AtALDH10A8" transform="rotate(315.7)"><line x1="624" x2="638"/><text x="641">AtALDH10A8</text></g>
<g id="leaf-MtALDH10A3" transform="rotate(318.72)"><line x1="624" x2="638"/><text x="641">MtALDH10A3</text></g>
<g id="leaf-PvALDH10A1" transform="rotate(321.74)"><line x1="624" x2="638"/><text x="641">PvALDH10A1</text></g>
<g id="leaf-AtALDH2B7" transform="rotate(324.76)"><line x1="624" x2="638"/><text x="641">AtALDH2B7</text></g>
<g id="leaf-AtALDH2B4" transform="rotate(327.78)"><line x1="624" x2="638"/><text x="641">AtALDH2B4</text></g>
<g id="leaf-PvALDH2B2" transform="rotate(330.8)"><line x1="624" x2="638"/><text x="641">PvALDH2B2</text></g>
<g id="leaf-PvALDH2B1" transform="rotate(333.82)"><line x1="624" x2="638"/><text x="641">PvALDH2B1</text></g>
<g id="leaf-MtALDH2B1.2" transform="rotate(336.84)"><line x1="624" x2="638"/><text x="641">MtALDH2B1.2</text></g>
<g id="leaf-MtALDH2B1.1" transform="rotate(339.86)"><line x1="624" x2="638"/><text x="641">MtALDH2B1.1</text></g>
<g id="leaf-OsALDH2B5" transform="rotate(342.88)"><line x1="624" x2="638"/><text x="641">OsALDH2B5</text></g>
<g id="leaf-SiALDH2B2" transform="rotate(345.9)"><line x1="624" x2="638"/><text x="641">SiALDH2B2</text></g>
<g id="leaf-OsALDH2B1" transform="rotate(348.92)"><line x1="624" x2="638"/><text x="641">OsALDH2B1</text></g>
<g id="leaf-MtALDH2B2" transform="rotate(351.94)"><line x1="624" x2="638"/><text x="641">MtALDH2B2</text></g>
<g id="leaf-PvALDH2B4" transform="rotate(354.96)"><line x1="624" x2="638"/><text x="641">PvALDH2B4</text></g>
<g id="leaf-MtALDH2B3.1" transform="rotate(357.98)"><line x1="624" x2="638"/><text x="641">MtALDH2B3.1</text></g>
<g id="leaf-MtALDH2B3.2" transform="rotate(1)"><line x1="624" x2="638"/><text x="641">MtALDH2B3.2</text></g>
<g id="leaf-MtALDH2B3.4" transform="rotate(4.02)"><line x1="624" x2="638"/><text x="641">MtALDH2B3.4</text></g>
<g id="leaf-MtALDH2B3.3" transform="rotate(7.04)"><line x1="624" x2="638"/><text x="641">MtALDH2B3.3</text></g>
<g id="leaf-SiALDH2C2" transform="rotate(10.06)"><line x1="624" x2="638"/><text x="641">SiALDH2C2</text></g>
<g id="leaf-OsALDH2C1" transform="rotate(13.08)"><line x1="624" x2="638"/><text x="641">OsALDH2C1</text></g>
<g id="leaf-SiALDH2C1" transform="rotate(16.1)"><line x1="624" x2="638"/><text x="641">SiALDH2C1</text></g>
<g id="leaf-OsALDH2B2" transform="rotate(19.12)"><line x1="624" x2="638"/><text x="641">OsALDH2B2</text></g>
<g id="leaf-SiALDH2C3" transform="rotate(22.14)"><line x1="624" x2="638"/><text x="641">SiALDH2C3</text></g>
<g id="leaf-OsALDH2C4" transform="rotate(25.16)"><line x1="624" x2="638"/><text x="641">OsALDH2C4</text></g>
<g id="leaf-ALDH2C4" transform="rotate(28.18)"><line x1="624" x2="638"/><text x="641">ALDH2C4</text></g>
<g id="leaf-PvALDH2C1" transform="rotate(31.2)"><line x1="624" x2="638"/><text x="641">PvALDH2C1</text></g>
<g id="leaf-PvALDH2C3" transform="rotate(34.22)"><line x1="624" x2="638"/><text x="641">PvALDH2C3</text></g>
<g id="leaf-MtALDH2C1.2" transform="rotate(37.24)"><line x1="624" x2="638"/><text x="641">MtALDH2C1.2</text></g>
<g id="leaf-MtALDH2C1.1" transform="rotate(40.26)"><line x1="624" x2="638"/><text x="641">MtALDH2C1.1</text></g>
<g id="leaf-MtALDH2C2" transform="rotate(43.28)"><line x1="624" x2="638"/><text x="641">MtALDH2C2</text></g>
<g id="leaf-PvALDH2C4" transform="rotate(46.3)"><line x1="624" x2="638"/><text x="641">PvALDH2C4</text></g>
<g id="leaf-PvALDH2C2" transform="rotate(49.32)"><line x1="624" x2="638"/><text x="641">PvALDH2C2</text></g>
<g id="leaf-MtALDH2D1.2" transform="rotate(52.34)"><line x1="624" x2="638"/><text x="641">MtALDH2D1.2</text></g>
<g id="leaf-MtALDH2D1.1" transform="rotate(55.36)"><line x1="624" x2="638"/><text x="641">MtALDH2D1.1</text></g>
<g id="leaf-MtALDH2C3.2" transform="rotate(58.38)"><line x1="624" x2="638"/><text x="641">MtALDH2C3.2</text></g>
<g id="leaf-MtALDH2C3.1" transform="rotate(61.4)"><line x1="624" x2="638"/><text x="641">MtALDH2C3.1</text></g>
<g id="leaf-MtALDH5F1" transform="rotate(64.42)"><line x1="624" x2="638"/><text x="641">MtALDH5F1</text></g>
<g id="leaf-PvALDH5F1" transform="rotate(67.44)"><line x1="624" x2="638"/><text x="641">PvALDH5F1</text></g>
<g id="leaf-AtALDH5F1" transform="rotate(70.46)"><line x1="624" x2="638"/><text x="641">AtALDH5F1</text></g>
<g id="leaf-SiALDH5F1" transform="rotate(73.48)"><line x1="624" x2="638"/><text x="641">SiALDH5F1</text></g>
<g id="leaf-OsALDH5F1" transform="rotate(76.5)"><line x1="624" x2="638"/><text x="641">OsALDH5F1</text></g>
<g id="leaf-SiALDH22A1" transform="rotate(79.52)"><line x1="624" x2="638"/><text x="641">SiALDH22A1</text></g>
<g id="leaf-OsALDH22A1" transform="rotate(82.54)"><line x1="624" x2="638"/><text x="641">OsALDH22A1</text></g>
<g id="leaf-AtALDH22A1" transform="rotate(85.56)"><line x1="624" x2="638"/><text x="641">AtALDH22A1</text></g>
<g id="leaf-MtALDH22A1" transform="rotate(88.58)"><line x1="624" x2="638"/><text x="641">MtALDH22A1</text></g>
<g id="leaf-PvALDH22A1" transform="rotate(91.6)"><line x1="624" x2="638"/><text x="-641" text-anchor="end" transform="rotate(180)">PvALDH22A1</text></g>
<g id="leaf-SiALDH11A1" transform="rotate(94.62)"><line x1="624" x2="638"/><text x="-641" text-anchor="end" transform="rotate(180)">SiALDH11A1</text></g>
<g id="leaf-OsALDH11A3" transform="rotate(97.64)"><line x1="624" x2="638"/><text x="-641" text-anchor="end" transform="rotate(180)">OsALDH11A3</text></g>
<g id="leaf-MtALDH11A1.2" transform="rotate(100.66)"><line x1="624" x2="638"/><text x="-641" text-anchor="end" transform="rotate(180)">MtALDH11A1.2</text></g>
<g id="leaf-MtALDH11A1.1" transform="rotate(103.68)"><line x1="624" x2="638"/><text x="-641" text-anchor="end" transform="rotate(180)">MtALDH11A1.1</text></g>
<g id="leaf-AtALDH11A3" transform="rotate(106.7)"><line x1="624" x2="638"/><text x="-641" text-anchor="end" transform="rotate(180)">AtALDH11A3</text></g>
<g id="leaf-PvALDH11A" transform="rotate(109.72)"><line x1="624" x2="638"/><text x="-641" text-anchor="end" transform="rotate(180)">PvALDH11A</text></g>
<g id="leaf-SiALDH12A1" transform="rotate(112.74)"><line x1="624" x2="638"/><text x="-641" text-anchor="end" transform="rotate(180)">SiALDH12A1</text></g>
<g id="leaf-OsALDH12A1" transform="rotate(115.76)"><line x1="624" x2="638"/><text x="-641" text-anchor="end" transform="rotate(180)">OsALDH12A1</text></g>
<g id="leaf-AtALDH12A1" transform="rotate(118.78)"><line x1="624" x2="638"/><text x="-641" text-anchor="end" transform="rotate(180)">AtALDH12A1</text></g>
<g id="leaf-PvALDH12A1" transform="rotate(121.8)"><line x1="624" x2="638"/><text x="-641" text-anchor="end" transform="rotate(180)">PvALDH12A1</text></g>
<g id="leaf-MtALDH12A1.2" transform="rotate(124.82)"><line x1="624" x2="638"/><text x="-641" text-anchor="end" transform="rotate(180)">MtALDH12A1.2</text></g>
<g id="leaf-MtALDH12A1.1" transform="rotate(127.84)"><line x1="624" x2="638"/><text x="-641" text-anchor="end" transform="rotate(180)">MtALDH12A1.1</text></g>
<g id="leaf-PvALDH3H2" transform="rotate(130.86)"><line x1="624" x2="638"/><text x="-641" text-anchor="end" transform="rotate(180)">PvALDH3H2</text></g>
<g id="leaf-AtALDH3I1" transform="rotate(133.88)"><line x1="624" x2="638"/><text x="-641" text-anchor="end" transform="rotate(180)">AtALDH3I1</text></g>
<g id="leaf-MtALDH3I1" transform="rotate(136.9)"><line x1="624" x2="638"/><text x="-641" text-anchor="end" transform="rotate(180)">MtALDH3I1</text></g>
<g id="leaf-PvALDH3I1" transform="rotate(139.92)"><line x1="624" x2="638"/><text x="-641" text-anchor="end" transform="rotate(180)">PvALDH3I1</text></g>
<g id="leaf-OsALDH3H2" transform="rotate(142.94)"><line x1="624" x2="638"/><text x="-641" text-anchor="end" transform="rotate(180)">OsALDH3H2</text></g>
<g id="leaf-SiALDH3H1" transform="rotate(145.96)"><line x1="624" x2="638"/><text x="-641" text-anchor="end" transform="rotate(180)">SiALDH3H1</text></g>
<g id="leaf-OsALDH3H1" transform="rotate(148.98)"><line x1="624" x2="638"/><text x="-641" text-anchor="end" transform="rotate(180)">OsALDH3H1</text></g>
<g id="leaf-AtALDH3H1" transform="rotate(152)"><line x1="624" x2="638"/><text x="-641" text-anchor="end" transform="rotate(180)">AtALDH3H1</text></g>
<g id="leaf-MtALDH3H2" transform="rotate(155.02)"><line x1="624" x2="638"/><text x="-641" text-anchor="end" transform="rotate(180)">MtALDH3H2</text></g>
<g id="leaf-PvALDH3H1" transform="rotate(158.04)"><line x1="624" x2="638"/><text x="-641" text-anchor="end" transform="rotate(180)">PvALDH3H1</text></g>
<g id="leaf-MtALDH3H1.2" transform="rotate(161.06)"><line x1="624" x2="638"/><text x="-641" text-anchor="end" transform="rotate(180)">MtALDH3H1.2</text></g>
<g id="leaf-MtALDH3H1.1" transform="rotate(164.08)"><line x1="624" x2="638"/><text x="-641" text-anchor="end" transform="rotate(180)">MtALDH3H1.1</text></g>
<g id="leaf-SiALDH3E2" transform="rotate(167.1)"><line x1="624" x2="638"/><text x="-641" text-anchor="end" transform="rotate(180)">SiALDH3E2</text></g>
<g id="leaf-OsALDH3B1" transform="rotate(170.12)"><line x1="624" x2="638"/><text x="-641" text-anchor="end" transform="rotate(180)">OsALDH3B1</text></g>
<g id="leaf-OsALDH3E2" transform="rotate(173.14)"><line x1="624" x2="638"/><text x="-641" text-anchor="end" transform="rotate(180)">OsALDH3E2</text></g>
<g id="leaf-SiALDH3E1" transform="rotate(176.16)"><line x1="624" x2="638"/><text x="-641" text-anchor="end" transform="rotate(180)">SiALDH3E1</text></g>
<g id="leaf-OsALDH3E1" transform="rotate(179.18)"><line x1="624" x2="638"/><text x="-641" text-anchor="end" transform="rotate(180)">OsALDH3E1</text></g>
<g id="leaf-AtALDH3F1" transform="rotate(182.2)"><line x1="624" x2="638"/><text x="-641" text-anchor="end" transform="rotate(180)">AtALDH3F1</text></g>
<g id="leaf-MtALDH3F1" transform="rotate(185.22)"><line x1="624" x2="638"/><text x="-641" text-anchor="end" transform="rotate(180)">MtALDH3F1</text></g>
<g id="leaf-PvALDH3F1" transform="rotate(188.24)"><line x1="624" x2="638"/><text x="-641" text-anchor="end" transform="rotate(180)">PvALDH3F1</text></g>
<g id="leaf-MtALDH3J2" transform="rotate(191.26)"><line x1="624" x2="638"/><text x="-641" text-anchor="end" transform="rotate(180)">MtALDH3J2</text></g>
<g id="leaf-PvALDH3J1" transform="rotate(194.28)"><line x1="624" x2="638"/><text x="-641" text-anchor="end" transform="rotate(180)">PvALDH3J1</text></g>
<g id="leaf-MtALDH3J1.2" transform="rotate(197.3)"><line x1="624" x2="638"/><text x="-641" text-anchor="end" transform="rotate(180)">MtALDH3J1.2</text></g>
<g id="leaf-MtALDH3J1.1" transform="rotate(200.32)"><line x1="624" x2="638"/><text x="-641" text-anchor="end" transform="rotate(180)">MtALDH3J1.1</text></g>
</g>
<g id="legend">
<text x="87" y="130" font-family="'Liberation Sans',Arial,sans-serif" font-size="38" font-weight="bold" fill="#111">bootstrap</text>
<line x1="79" y1="153.5" x2="265" y2="153.5" stroke="#222" stroke-width="1.6"/>
<g fill="#ff0000">
<circle cx="110.7" cy="196.7" r="3"/>
<circle cx="110.7" cy="274.3" r="4.3"/>
<circle cx="110.7" cy="352.3" r="6"/>
<circle cx="110.7" cy="429.3" r="7.7"/>
<circle cx="110.7" cy="506.7" r="9.7"/>
</g>
<text class="lg" x="163" y="208.5">0.068</text>
<text class="lg" x="163" y="285.5">0.3</text>
<text class="lg" x="163" y="363.5">0.53</text>
<text class="lg" x="163" y="440.5">0.77</text>
<text class="lg" x="163" y="517.5">1</text>
</g>
</svg>
